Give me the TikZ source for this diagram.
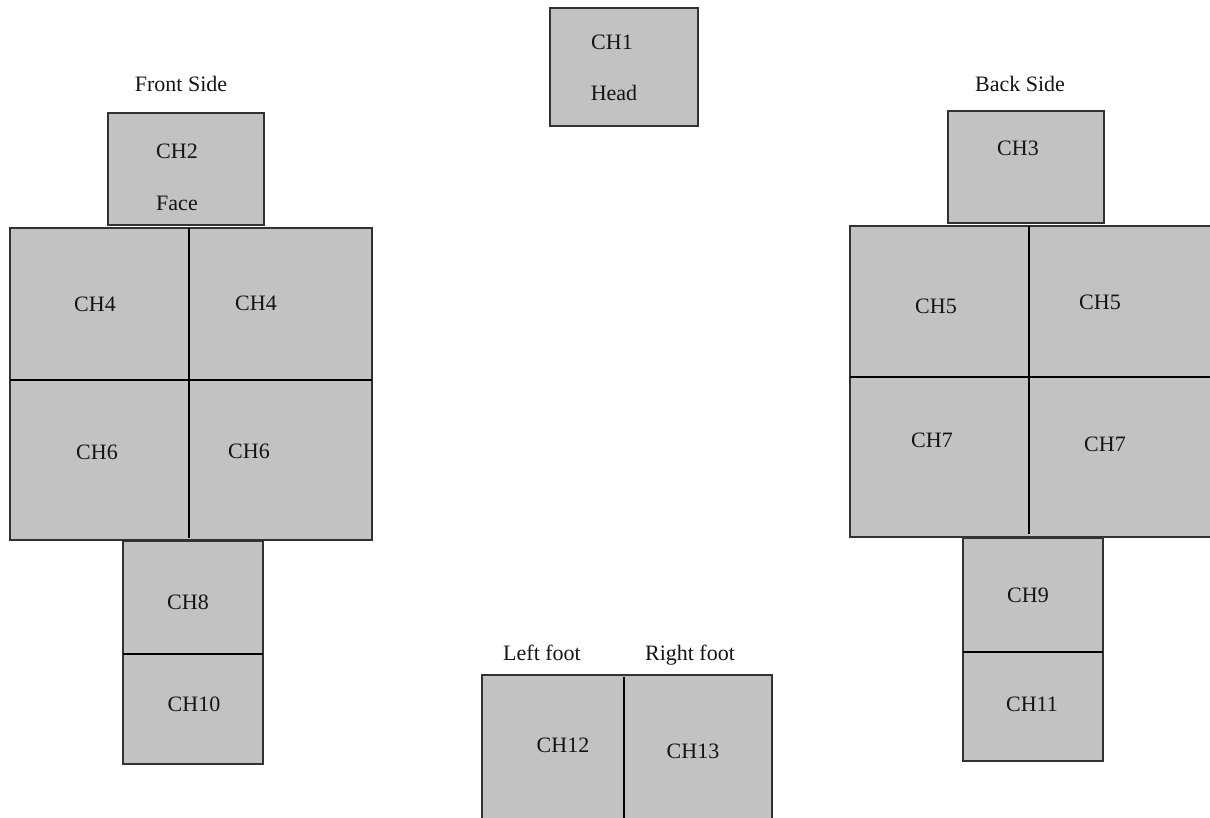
\documentclass[tikz,border=0pt]{standalone}
\usepackage{fontspec}
\setmainfont{Liberation Serif}
\definecolor{panel}{RGB}{194,194,194}
\definecolor{edge}{RGB}{50,50,50}
\definecolor{ink}{RGB}{20,20,20}
\tikzset{
  cell/.style={draw=edge, line width=1.4pt, fill=panel, rectangle, anchor=north west,
               inner sep=0pt, outer sep=0pt},
  divider/.style={draw=black, line width=1.1pt},
  seam/.style={draw=black, line width=2pt},
  lbl/.style={anchor=base, inner sep=0pt, text=ink, font=\fontsize{22}{26}\selectfont}
}
\begin{document}
\begin{tikzpicture}[x=1pt, y=-1pt]
\useasboundingbox (0,0) rectangle (1210,818);
\clip (0,0) rectangle (1210,818);

% head
\node[cell, minimum width=148pt, minimum height=118pt] (head) at (550,8) {};
% front side
\node[cell, minimum width=156pt, minimum height=112pt] (face) at (108,113) {};
\node[cell, minimum width=362pt, minimum height=312pt] (front) at (10,228) {};
\node[cell, minimum width=140pt, minimum height=113pt] (ch8box) at (123,541) {};
\node[cell, minimum width=140pt, minimum height=110pt] (ch10box) at (123,654) {};
% back side
\node[cell, minimum width=156pt, minimum height=112pt] (backhead) at (948,111) {};
\node[cell, minimum width=400pt, minimum height=311pt] (back) at (850,226) {};
\node[cell, minimum width=140pt, minimum height=114pt] (ch9box) at (963,538) {};
\node[cell, minimum width=140pt, minimum height=109pt] (ch11box) at (963,652) {};
% feet
\node[cell, minimum width=290pt, minimum height=170pt] (feet) at (482,675) {};

% dividers of the torso blocks and the feet
\coordinate (fv) at (189,0);
\coordinate (fh) at (0,380);
\draw[divider] (front.north -| fv) -- ([yshift=2pt]front.south -| fv);
\draw[divider] (front.west |- fh) -- (front.east |- fh);
\coordinate (bv) at (1029,0);
\coordinate (bh) at (0,377);
\draw[divider] (back.north -| bv) -- ([yshift=3pt]back.south -| bv);
\draw[divider] (back.west |- bh) -- (back.east |- bh);
\coordinate (footv) at (624,0);
\draw[divider] ([yshift=-2pt]feet.north -| footv) -- (feet.south -| footv);
% leg seams
\draw[seam] (ch8box.south west) -- (ch8box.south east);
\draw[seam] (ch9box.south west) -- (ch9box.south east);

% labels
\node[lbl] (tCH1) at (612,50) {CH1};
\node[lbl] (tHead) at (614,101) {Head};
\node[lbl] (tFront) at (181,92) {Front Side};
\node[lbl] (tCH2) at (177,159) {CH2};
\node[lbl] (tFace) at (177,211) {Face};
\node[lbl] (tCH4a) at (95,312) {CH4};
\node[lbl] (tCH4b) at (256,310) {CH4};
\node[lbl] (tCH6a) at (97,459) {CH6};
\node[lbl] (tCH6b) at (249,458) {CH6};
\node[lbl] (tCH8) at (188,609) {CH8};
\node[lbl] (tCH10) at (194,711) {CH10};
\node[lbl] (tLeft) at (542,660) {Left foot};
\node[lbl] (tRight) at (690,660) {Right foot};
\node[lbl] (tCH12) at (563,752) {CH12};
\node[lbl] (tCH13) at (693,758) {CH13};
\node[lbl] (tBack) at (1020,92) {Back Side};
\node[lbl] (tCH3) at (1018,156) {CH3};
\node[lbl] (tCH5a) at (936,313) {CH5};
\node[lbl] (tCH5b) at (1100,309) {CH5};
\node[lbl] (tCH7a) at (932,447) {CH7};
\node[lbl] (tCH7b) at (1105,451) {CH7};
\node[lbl] (tCH9) at (1028,602) {CH9};
\node[lbl] (tCH11) at (1032,711) {CH11};
\end{tikzpicture}
\end{document}
